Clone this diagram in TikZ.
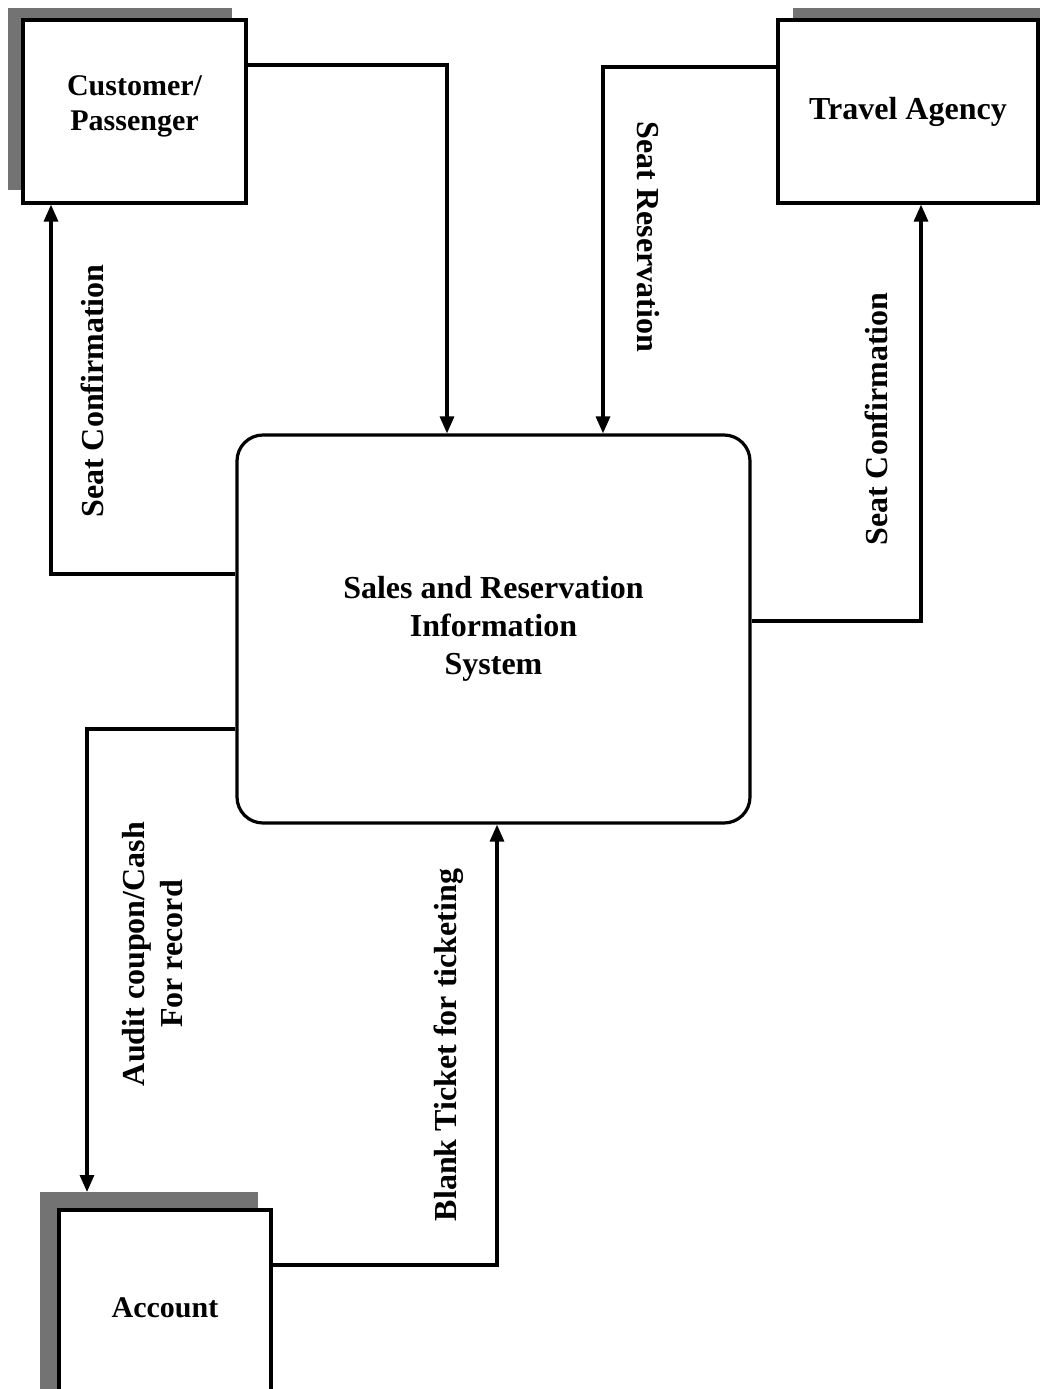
\documentclass[tikz,border=0pt]{standalone}
\usepackage{fontspec}
\setmainfont{Liberation Serif}
\usetikzlibrary{arrows.meta}
\begin{document}
\begin{tikzpicture}[x=1pt,y=-1pt,
  ent/.style={draw, fill=white, line width=3.2pt, inner sep=0pt,
    font=\bfseries\fontsize{30}{35}\selectfont, align=center},
  shad/.style={fill=black!55},
  flow/.style={line width=3.2pt, -{Triangle[length=17pt,width=14pt]}},
  lbl/.style={font=\bfseries\fontsize{32}{38}\selectfont, align=center, inner sep=0pt}]
\useasboundingbox (0,0) rectangle (1041,1389);
\clip (0,0) rectangle (1041,1389);
% shadows
\fill[shad] (8,8) rectangle (232,190);
\fill[shad] (793,8) rectangle (1040,190);
\fill[shad] (40,1192) rectangle (258,1389);
% entities
\node[ent, minimum width=223pt, minimum height=183pt, text depth=16pt] (cust) at (134.5,111.5)
  {Customer/\\Passenger};
\node[ent, minimum width=260pt, minimum height=183pt, font=\bfseries\fontsize{32}{38}\selectfont] (ta) at (908,111.5) {Travel Agency};
\node[ent, minimum width=212pt, minimum height=196pt] (acc) at (165,1308) {Account};
% process
\node[draw, fill=white, line width=3.2pt, rounded corners=26pt, minimum width=513pt, minimum height=388pt,
  font=\bfseries\fontsize{32}{38}\selectfont, align=center] (sys) at (493.5,629)
  {Sales and Reservation\\Information\\System};
\coordinate (accsh) at (87,1192);
% flows
\draw[flow] (cust.east |- 0,65) -| (sys.north -| 447,0);
\draw[flow] (ta.west |- 0,67) -| (sys.north -| 603,0);
\draw[flow] (sys.west |- 0,574) -| (cust.south -| 51,0);
\draw[flow] (sys.east |- 0,621) -| (ta.south -| 921,0);
\draw[flow] (sys.west |- 0,729) -| (accsh);
\draw[flow] (acc.east |- 0,1265) -| (sys.south -| 497,0);
% labels
\node[lbl, rotate=90] (l1) at (92,391) {Seat Confirmation};
\node[lbl, rotate=-90] (l2) at (648,237) {Seat Reservation};
\node[lbl, rotate=90] (l3) at (876,419) {Seat Confirmation};
\node[lbl, rotate=90] (l4) at (153,954) {Audit coupon/Cash\\For record};
\node[lbl, rotate=90] (l5) at (449,1045) {Blank Ticket for ticketing};
\end{tikzpicture}
\end{document}
